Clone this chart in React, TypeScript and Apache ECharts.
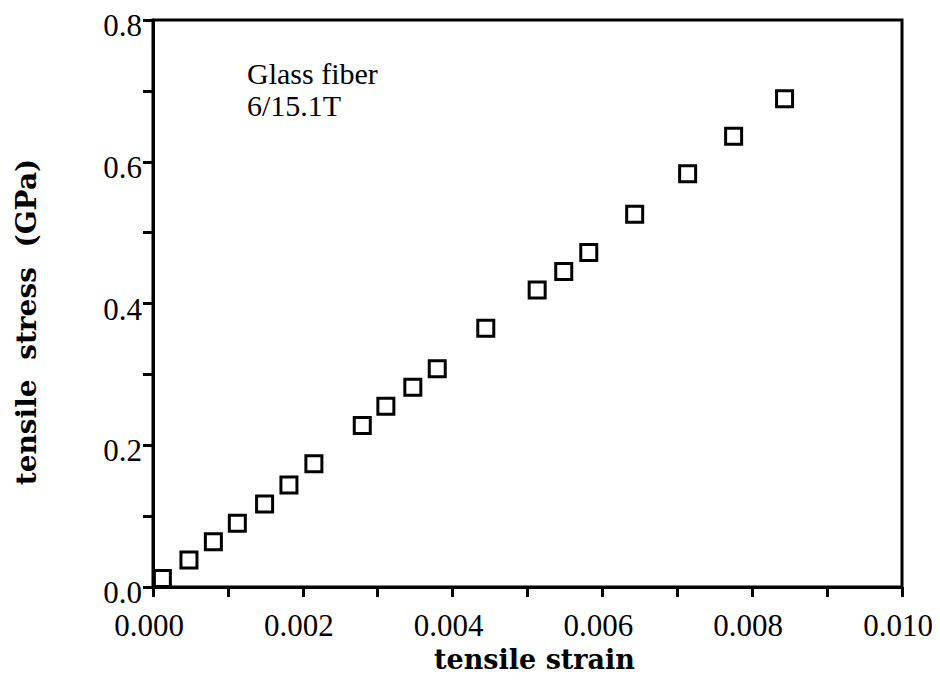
import React, { useEffect, useRef } from "react";
import * as echarts from "echarts";

// Tensile strain (dimensionless) and tensile stress (GPa) for the glass fiber sample
const strain = [
  0.000125, 0.00048, 0.000806, 0.001126, 0.00149, 0.001815, 0.002148,
  0.002794, 0.003109, 0.003469, 0.003795, 0.004443, 0.005129, 0.005484,
  0.005818, 0.006431, 0.007138, 0.007752, 0.008432,
];
const stress = [
  0.012, 0.038, 0.064, 0.090, 0.117, 0.144, 0.174,
  0.228, 0.255, 0.282, 0.308, 0.365, 0.419, 0.445,
  0.472, 0.526, 0.583, 0.636, 0.689,
];

const xTitle = "tensile strain";
const yTitle = "tensile  stress  (GPa)";
const noteLines = ["Glass fiber", "6/15.1T"];

const serif = "Liberation Serif";
const boldSerif = "DejaVu Serif";

export default function App() {
  const ref = useRef<HTMLDivElement>(null);

  useEffect(() => {
    if (!ref.current) return;
    const chart = echarts.init(ref.current, null, { renderer: "svg" });
    const points = strain.map((x, i) => [x, stress[i]]);
    const axisLine = { show: true, lineStyle: { color: "#000", width: 3 } };
    const tickStyle = { width: 3, color: "#000" };

    chart.setOption({
      animation: false,
      backgroundColor: "#fff",
      grid: {
        left: 153,
        right: 38,
        top: 20,
        bottom: 96,
        show: true,
        borderColor: "#000",
        borderWidth: 3,
        containLabel: false,
      },
      xAxis: {
        type: "value",
        min: 0,
        max: 0.01,
        interval: 0.002,
        axisLine,
        axisTick: { show: true, inside: false, length: 10, lineStyle: tickStyle },
        minorTick: { show: true, splitNumber: 2, length: 10, lineStyle: tickStyle },
        splitLine: { show: false },
        axisLabel: {
          color: "#000",
          fontFamily: serif,
          fontSize: 31,
          margin: 23,
          padding: [0, 8, 0, 0],
          formatter: (v: number) => v.toFixed(3),
        },
        name: xTitle,
        nameLocation: "middle",
        nameGap: 58,
        nameTextStyle: {
          color: "#000",
          fontFamily: boldSerif,
          fontWeight: "bold",
          fontSize: 27,
          padding: [0, 0, 0, 14],
        },
      },
      yAxis: {
        type: "value",
        min: 0,
        max: 0.8,
        interval: 0.2,
        axisLine,
        axisTick: { show: true, inside: false, length: 10, lineStyle: tickStyle },
        minorTick: { show: true, splitNumber: 2, length: 10, lineStyle: tickStyle },
        splitLine: { show: false },
        axisLabel: {
          color: "#000",
          fontFamily: serif,
          fontSize: 31,
          margin: 11,
          verticalAlign: "top",
          lineHeight: 31,
          padding: [-10, 0, 0, 0],
          formatter: (v: number) => v.toFixed(1),
        },
      },
      graphic: [
        {
          type: "text",
          x: 26,
          y: 322,
          rotation: Math.PI / 2,
          style: {
            text: yTitle,
            fill: "#000",
            fontFamily: boldSerif,
            fontWeight: "bold",
            fontSize: 28,
            textAlign: "center",
            textVerticalAlign: "middle",
          },
        },
        ...noteLines.map((line, i) => ({
          type: "text",
          left: 247,
          top: 58 + i * 32,
          style: {
            text: line,
            fill: "#000",
            fontFamily: serif,
            fontSize: 30,
            lineHeight: 30,
          },
        })),
      ],
      series: [
        {
          type: "scatter",
          data: points,
          symbol: "rect",
          symbolSize: 16,
          itemStyle: { color: "#fff", borderColor: "#000", borderWidth: 3, opacity: 1 },
        },
      ],
    });

    return () => chart.dispose();
  }, []);

  return <div ref={ref} style={{ width: 940, height: 683, margin: -8 }} />;
}
